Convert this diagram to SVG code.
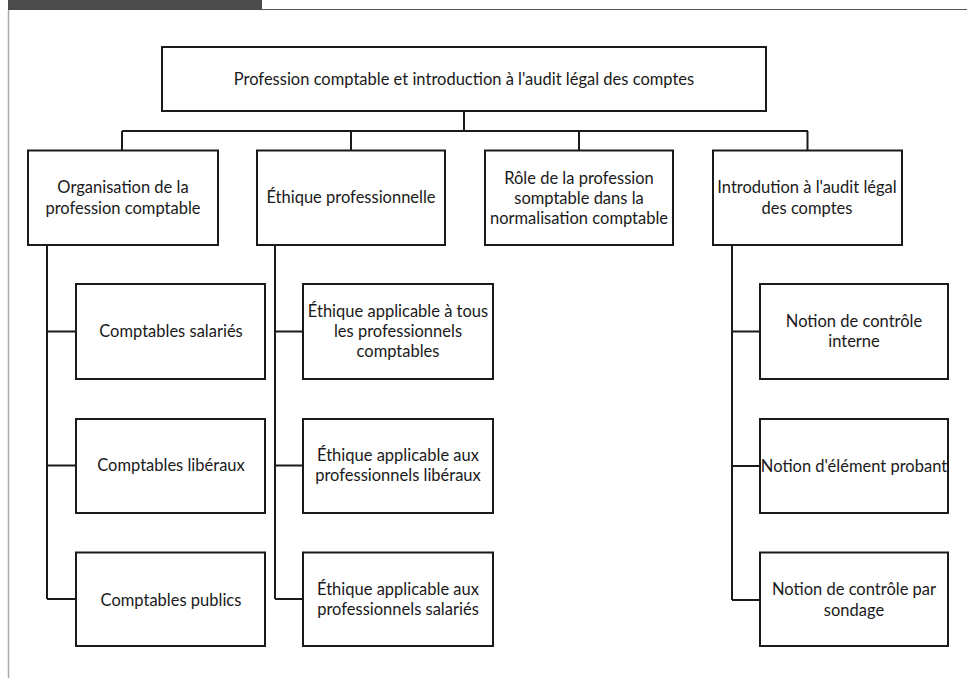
<svg xmlns="http://www.w3.org/2000/svg" width="967" height="678" viewBox="0 0 967 678">
<style>
.box{fill:#fff;stroke:#1a1a1a;stroke-width:2}
.ln{fill:none;stroke:#1a1a1a;stroke-width:2}
text{font-family:Lato,"Open Sans","Liberation Sans",sans-serif;font-size:16.5px;fill:#1a1a1a;text-anchor:middle}
</style>
<rect width="967" height="678" fill="#fff"/>
<g id="frame">
<rect x="8" y="0" width="254" height="10" fill="#4b4b4b"/>
<line x1="262" y1="9.5" x2="967" y2="9.5" stroke="#555" stroke-width="1.2"/>
<line x1="8.5" y1="10" x2="8.5" y2="678" stroke="#aaa" stroke-width="1.5"/>
</g>
<g id="connectors">
<path class="ln" d="M464 111V131M122 131H808M122 131V150.5M351 131V150.5M579 131V150.5M807.5 131V150.5"/>
<path class="ln" d="M47 245V599M47 331.5H76M47 465.5H76M47 599H76"/>
<path class="ln" d="M275 245V599M275 331.5H303M275 465.5H303M275 599H303"/>
<path class="ln" d="M732 245V600M732 331.5H760M732 466H760M732 600H760"/>
</g>
<g id="root"><rect class="box" x="162" y="47" width="604" height="64"/><text x="464" y="85">Profession comptable et introduction à l'audit légal des comptes</text></g>
<g id="n1"><rect class="box" x="28" y="150.5" width="190" height="94.5"/><text x="123" y="193">Organisation de la</text><text x="123" y="214">profession comptable</text></g>
<g id="n2"><rect class="box" x="257" y="150.5" width="188" height="94.5"/><text x="351" y="203">Éthique professionnelle</text></g>
<g id="n3"><rect class="box" x="485" y="150.5" width="188" height="94.5"/><text x="579" y="184">Rôle de la profession</text><text x="579" y="204">somptable dans la</text><text x="579" y="224">normalisation comptable</text></g>
<g id="n4"><rect class="box" x="713" y="150.5" width="189" height="94.5"/><text x="807" y="193">Introdution à l'audit légal</text><text x="807" y="214">des comptes</text></g>
<g id="n1a"><rect class="box" x="76" y="284" width="189" height="95"/><text x="171" y="337">Comptables salariés</text></g>
<g id="n1b"><rect class="box" x="76" y="419" width="189" height="94"/><text x="171" y="471">Comptables libéraux</text></g>
<g id="n1c"><rect class="box" x="76" y="552.5" width="189" height="93.5"/><text x="171" y="606">Comptables publics</text></g>
<g id="n2a"><rect class="box" x="303" y="284" width="190" height="95"/><text x="398" y="317">Éthique applicable à tous</text><text x="398" y="337">les professionnels</text><text x="398" y="357">comptables</text></g>
<g id="n2b"><rect class="box" x="303" y="419" width="190" height="94"/><text x="398" y="461">Éthique applicable aux</text><text x="398" y="481">professionnels libéraux</text></g>
<g id="n2c"><rect class="box" x="303" y="552.5" width="190" height="93.5"/><text x="398" y="595">Éthique applicable aux</text><text x="398" y="615">professionnels salariés</text></g>
<g id="n4a"><rect class="box" x="760" y="284" width="188" height="95"/><text x="854" y="327">Notion de contrôle</text><text x="854" y="347">interne</text></g>
<g id="n4b"><rect class="box" x="760" y="419" width="188" height="94"/><text x="854" y="472">Notion d'élément probant</text></g>
<g id="n4c"><rect class="box" x="760" y="552.5" width="188" height="93.5"/><text x="854" y="595">Notion de contrôle par</text><text x="854" y="616">sondage</text></g>
</svg>
